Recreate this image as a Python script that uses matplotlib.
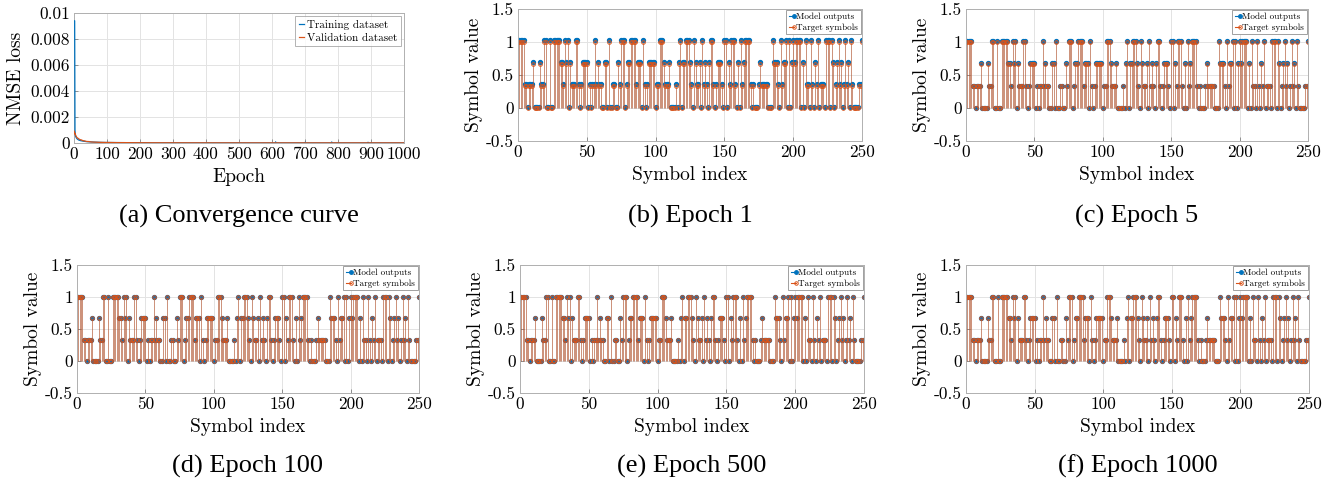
import numpy as np
import matplotlib
matplotlib.use("Agg")
import matplotlib.pyplot as plt
from matplotlib.legend_handler import HandlerLine2D

# -------------------------
# Data
# -------------------------
# PAM-4 target sequence, as level index 0..3 (value = level / 3), symbols 0..250
target_levels = [
    3, 3, 3, 3, 3, 1, 1, 0, 1, 1,
    1, 2, 0, 0, 0, 0, 2, 1, 1, 3,
    3, 0, 0, 3, 0, 0, 3, 3, 3, 3,
    3, 2, 2, 1, 3, 2, 3, 0, 2, 1,
    1, 1, 3, 3, 1, 0, 1, 2, 2, 2,
    2, 0, 1, 0, 1, 1, 3, 1, 2, 1,
    1, 0, 0, 2, 2, 0, 3, 0, 0, 1,
    1, 0, 0, 2, 1, 3, 3, 3, 0, 1,
    2, 2, 3, 3, 3, 3, 1, 2, 2, 2,
    0, 3, 1, 0, 1, 2, 2, 2, 2, 2,
    0, 1, 1, 3, 3, 3, 2, 1, 1, 1,
    2, 0, 0, 0, 0, 1, 0, 2, 3, 0,
    2, 2, 3, 3, 3, 2, 1, 0, 3, 2,
    1, 1, 2, 0, 3, 1, 2, 1, 0, 2,
    3, 3, 1, 0, 1, 2, 2, 2, 1, 0,
    3, 3, 0, 2, 1, 3, 3, 3, 1, 0,
    2, 0, 3, 1, 2, 3, 3, 3, 3, 1,
    0, 1, 0, 0, 0, 1, 2, 1, 1, 1,
    1, 1, 0, 0, 0, 3, 2, 2, 2, 1,
    0, 3, 1, 2, 2, 3, 0, 3, 0, 2,
    3, 2, 3, 3, 3, 3, 0, 2, 0, 3,
    1, 1, 0, 3, 1, 0, 2, 1, 3, 0,
    1, 1, 1, 0, 3, 3, 3, 0, 3, 2,
    0, 1, 2, 3, 1, 2, 0, 1, 3, 1,
    2, 0, 3, 1, 0, 0, 0, 0, 1, 1,
    3,
]

# model output value for each target level, per epoch
epochs = [1, 5, 100, 500, 1000]
output_levels = {
    1: [0.01, 0.36, 0.70, 1.03],
    5: [-0.005, 0.34, 0.675, 1.015],
    100: [0.0, 1 / 3, 2 / 3, 1.0],
    500: [0.0, 1 / 3, 2 / 3, 1.0],
    1000: [0.0, 1 / 3, 2 / 3, 1.0],
}
captions = ["(b) Epoch 1", "(c) Epoch 5", "(d) Epoch 100", "(e) Epoch 500", "(f) Epoch 1000"]

# convergence curve samples
train_epochs = [1, 2, 3, 4, 5, 7, 10, 15, 20, 30, 40, 60, 80, 100, 150, 200, 300,
                400, 500, 600, 610, 611, 612, 700, 701, 702, 780, 781, 782, 890, 891, 892, 1000]
train_loss = [0.0094, 0.0094, 0.0010, 0.0006, 0.0005, 0.0004, 0.0003, 0.00022, 0.00018,
              0.00013, 0.0001, 0.00007, 0.00005, 0.00004, 0.00003, 0.00002, 0.000015,
              0.000012, 0.00001, 0.00001, 0.00001, 0.00009, 0.00001, 0.00001, 0.00007,
              0.00001, 0.00001, 0.00008, 0.00001, 0.00001, 0.00006, 0.00001, 0.00001]
val_epochs = [1, 2, 3, 5, 8, 10, 14, 18, 22, 27, 32, 38, 45, 52, 60, 70, 80, 95, 110,
              130, 150, 200, 300, 400, 500, 600, 700, 800, 900, 1000]
val_loss = [0.0009, 0.0007, 0.00075, 0.0006, 0.00045, 0.0004, 0.00033, 0.00026, 0.00024,
            0.00018, 0.00016, 0.00012, 0.00011, 0.00008, 0.00007, 0.00006, 0.00005,
            0.00004, 0.00004, 0.00003, 0.00003, 0.00002, 0.000015, 0.000012, 0.00001,
            0.00001, 0.00001, 0.00001, 0.00001, 0.00001]

# -------------------------
# Style
# -------------------------
blue = "#0072BD"
orange = "#D95319"
plt.rcParams["font.family"] = ["cmr10", "DejaVu Serif"]
plt.rcParams["axes.formatter.use_mathtext"] = True
plt.rcParams["mathtext.fontset"] = "cm"

W, H = 1329, 483
fig = plt.figure(figsize=(W / 100, H / 100), dpi=100)


class StemHandler(HandlerLine2D):
    # MATLAB-like stem legend icon: line with the marker on its right end
    def create_artists(self, *args, **kwargs):
        arts = super().create_artists(*args, **kwargs)
        arts[0].set_markevery([2])
        return arts


def px_axes(l, t, r, b):
    return fig.add_axes([l / W, 1 - b / H, (r - l) / W, (b - t) / H])


def matlab_style(ax):
    ax.grid(True, color="#e3e3e3", linewidth=0.7)
    ax.set_axisbelow(True)
    for s in ax.spines.values():
        s.set_color("#b0b0b0")
        s.set_linewidth(0.7)
    ax.tick_params(direction="in", length=3, width=0.6, color="#808080",
                   labelsize=12.5, pad=3)


def caption(ax, text, y_px):
    pos = ax.get_position()
    fig.text(pos.x0 + pos.width / 2, 1 - y_px / H, text, ha="center", va="center",
             fontsize=19, family="Liberation Serif")


# -------------------------
# (a) Convergence curve
# -------------------------
ax = px_axes(74, 13, 404, 143)
ax.plot(train_epochs, train_loss, color=blue, lw=0.9, label="Training dataset", zorder=3)
ax.plot(val_epochs, val_loss, color=orange, lw=0.9, label="Validation dataset", zorder=3)
ax.set_xlim(0, 1000)
ax.set_ylim(0, 0.01)
ax.set_xticks(np.arange(0, 1001, 100))
ax.set_xticklabels([str(v) for v in range(0, 1001, 100)])
ax.set_yticks([0, 0.002, 0.004, 0.006, 0.008, 0.01])
ax.set_yticklabels(["0", "0.002", "0.004", "0.006", "0.008", "0.01"])
matlab_style(ax)
ax.set_xlabel("Epoch", fontsize=14, labelpad=4)
ax.set_ylabel("NMSE loss", fontsize=14, labelpad=4)
leg = ax.legend(loc="upper right", fontsize=8, handlelength=0.5, handletextpad=0.25,
                borderaxespad=0.3, borderpad=0.3, labelspacing=0.3, fancybox=False)
leg.get_frame().set_edgecolor("#a0a0a0")
leg.get_frame().set_linewidth(0.7)
caption(ax, "(a) Convergence curve", 216)

# -------------------------
# (b)-(f) symbol plots (stem plots)
# -------------------------
boxes = [
    (518, 9, 862, 141),
    (966, 9, 1308, 141),
    (77, 265, 419, 393),
    (520, 265, 864, 393),
    (966, 265, 1309, 393),
]
cap_y = [216, 216, 466, 466, 466]

idx = np.arange(len(target_levels))
target = np.array(target_levels) / 3.0

for ep, box, cap, cy in zip(epochs, boxes, captions, cap_y):
    ax = px_axes(*box)
    outputs = np.array(output_levels[ep])[target_levels]
    m1, s1, b1 = ax.stem(idx, outputs, linefmt="-", markerfmt="o", basefmt=" ")
    s1.set_color(blue)
    s1.set_linewidth(0.5)
    s1.set_alpha(0.35)
    m1.set_color(blue)
    m1.set_markersize(2.8)
    m2, s2, b2 = ax.stem(idx, target, linefmt="-", markerfmt="o", basefmt=" ")
    s2.set_color(orange)
    s2.set_linewidth(0.7)
    s2.set_alpha(0.55)
    m2.set_color(orange)
    m2.set_markersize(2.6)
    m2.set_markerfacecolor("none")
    m2.set_markeredgewidth(0.7)
    ax.set_xlim(0, 250)
    ax.set_ylim(-0.5, 1.5)
    ax.set_xticks(np.arange(0, 251, 50))
    ax.set_xticklabels([str(v) for v in range(0, 251, 50)])
    ax.set_yticks([-0.5, 0, 0.5, 1, 1.5])
    ax.set_yticklabels(["-0.5", "0", "0.5", "1", "1.5"])
    matlab_style(ax)
    ax.set_xlabel("Symbol index", fontsize=14, labelpad=4)
    ax.set_ylabel("Symbol value", fontsize=14, labelpad=2)
    h1 = plt.Line2D([], [], color=blue, lw=0.8, marker="o", ms=2.5)
    h2 = plt.Line2D([], [], color=orange, lw=0.8, marker="o", ms=2.5, mfc="none", mew=0.7)
    leg = ax.legend([h1, h2], ["Model outputs", "Target symbols"], loc="upper right",
                    fontsize=6.6, handlelength=0.6, handletextpad=0.25, numpoints=1,
                    borderaxespad=0.15, borderpad=0.25, labelspacing=0.25, fancybox=False,
                    framealpha=1, handler_map={plt.Line2D: StemHandler()})
    leg.get_frame().set_edgecolor("#a0a0a0")
    leg.get_frame().set_linewidth(0.7)
    caption(ax, cap, cy)

fig.savefig("out.png", dpi=100)
